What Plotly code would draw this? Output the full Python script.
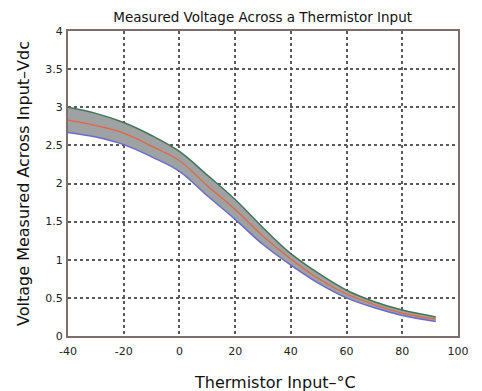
import plotly.graph_objects as go

temps = [-40, -30, -20, -10, 0, 10, 20, 30, 40, 50, 60, 70, 80, 92]
upper = [3.00, 2.92, 2.80, 2.63, 2.42, 2.11, 1.79, 1.42, 1.08, 0.82, 0.60, 0.45, 0.34, 0.25]
middle = [2.83, 2.76, 2.66, 2.49, 2.30, 1.97, 1.66, 1.31, 1.01, 0.75, 0.55, 0.41, 0.30, 0.22]
lower = [2.67, 2.61, 2.51, 2.35, 2.16, 1.84, 1.53, 1.20, 0.93, 0.69, 0.50, 0.37, 0.27, 0.19]

x_ticks = [-40, -20, 0, 20, 40, 60, 80, 100]
x_tick_text = ["-40", "-20", "0", "20", "40", "60", "80", "100"]
y_ticks = [0, 0.5, 1, 1.5, 2, 2.5, 3, 3.5, 4]
y_tick_text = ["0", "0.5", "1", "1.5", "2", "2.5", "3", "3.5", "4"]

fig = go.Figure()
fig.add_trace(go.Scatter(x=temps, y=lower, mode="lines",
                         line=dict(color="#6a6acc", width=1.5, shape="spline"),
                         hoverinfo="skip", showlegend=False))
fig.add_trace(go.Scatter(x=temps, y=upper, mode="lines", fill="tonexty",
                         fillcolor="#9fa2a2",
                         line=dict(color="#447559", width=1.5, shape="spline"),
                         hoverinfo="skip", showlegend=False))
fig.add_trace(go.Scatter(x=temps, y=middle, mode="lines",
                         line=dict(color="#e8623e", width=1.2, shape="spline"),
                         showlegend=False))

axis_common = dict(
    showgrid=True, gridcolor="#5a5a5a", griddash="dot", gridwidth=1.5,
    showline=True, linecolor="#7d6e6c", linewidth=2, mirror=True,
    zeroline=False, tickcolor="rgba(0,0,0,0)", automargin=False,
    tickfont=dict(family="DejaVu Sans", size=11, color="#222222"),
)

fig.update_layout(
    width=482, height=391,
    margin=dict(l=68, r=24, t=31, b=55),
    paper_bgcolor="white", plot_bgcolor="white",
    title=dict(text="Measured Voltage Across a Thermistor Input",
               font=dict(family="DejaVu Sans", size=13.5, color="#111111"),
               x=0.545, xanchor="center", y=0.955, yanchor="middle"),
    xaxis=dict(range=[-40, 100], tickvals=x_ticks, ticktext=x_tick_text,
               ticks="outside", ticklen=4, **axis_common),
    yaxis=dict(range=[0, 4], tickvals=y_ticks, ticktext=y_tick_text,
               ticks="outside", ticklen=1,
               title=dict(text="Voltage Measured Across Input–Vdc", standoff=12,
                          font=dict(family="DejaVu Sans", size=16, color="#111111")),
               **axis_common),
    annotations=[dict(text="Thermistor Input–°C", xref="paper", yref="paper",
                      x=0.531, y=-0.151, xanchor="center", yanchor="middle",
                      showarrow=False,
                      font=dict(family="DejaVu Sans", size=16, color="#111111"))],
)

fig.write_html("out.html", config={"displayModeBar": False},
               post_script="document.body.style.margin='0';")
